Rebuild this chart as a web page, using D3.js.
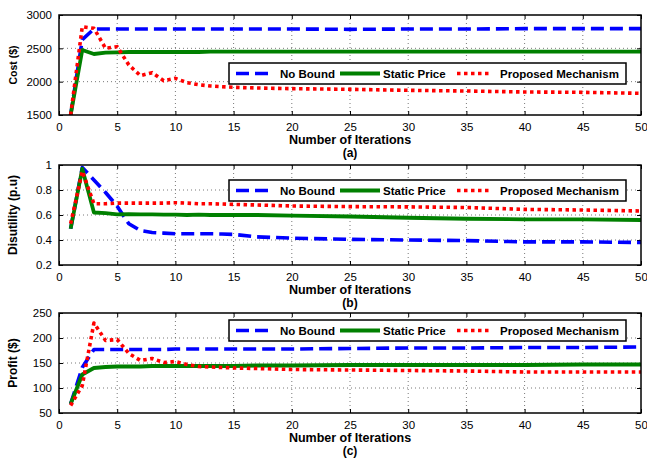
<!DOCTYPE html>
<html><head><meta charset="utf-8">
<script src="https://cdn.jsdelivr.net/npm/d3@7"></script>
<style>
body{margin:0;background:#fff;}
svg{display:block;font-family:"Liberation Sans",Arial,Helvetica,sans-serif;}
</style></head>
<body><svg id="c" width="647" height="458"></svg>
<script>
const iterations = [1,2,3,4,5,6,7,8,9,10,11,12,13,14,15,17,20,25,30,35,40,45,50];
const seriesNames = ["No Bound","Static Price","Proposed Mechanism"];

const costNoBound  = [1500,2630,2790,2790,2790,2790,2790,2790,2790,2790,2790,2790,2790,2790,2790,2790,2790,2785,2790,2790,2795,2795,2795];
const costStatic   = [1500,2475,2415,2435,2440,2445,2445,2445,2445,2445,2445,2445,2450,2450,2450,2450,2450,2450,2450,2450,2450,2450,2450];
const costProposed = [1500,2825,2800,2500,2525,2250,2090,2135,2015,2050,1985,1955,1935,1925,1915,1905,1895,1885,1870,1860,1845,1840,1825];

const disNoBound  = [0.49,0.98,0.88,0.78,0.67,0.53,0.475,0.46,0.455,0.45,0.45,0.45,0.45,0.448,0.445,0.425,0.415,0.405,0.40,0.395,0.385,0.385,0.38];
const disStatic   = [0.49,0.97,0.62,0.615,0.605,0.607,0.605,0.605,0.603,0.603,0.600,0.603,0.600,0.600,0.600,0.600,0.595,0.588,0.578,0.570,0.565,0.565,0.56];
const disProposed = [0.53,0.95,0.69,0.69,0.695,0.695,0.695,0.695,0.695,0.698,0.695,0.69,0.69,0.688,0.685,0.68,0.672,0.667,0.665,0.66,0.645,0.64,0.632];

const profNoBound  = [68,141,177,177,177,177,177,177,177,178,178,178,178,178,178,178,178,179,180,180,181,181,182];
const profStatic   = [68,127,140,142,143,143,143,144,144,144,144,144,144,144,144,145,145,146,146,146,146,147,147];
const profProposed = [65,105,230,195,197,169,155,159,151,153,147,143,142,141,140,139,137,136,135,134,132,132,132];

const xTicks = [0,5,10,15,20,25,30,35,40,45,50];
const costTicks = [1500,2000,2500,3000];
const disTicks = [0.2,0.4,0.6,0.8,1];
const profTicks = [50,100,150,200,250];

const panels = [
  {top:15, ylabel:"Cost ($)", ylabelSize:10.5, domain:[1500,3000], ticks:costTicks, fmt:d=>d, tag:"(a)", series:[costNoBound,costStatic,costProposed]},
  {top:165, ylabel:"Disutility (p.u)", ylabelSize:12, domain:[0.2,1], ticks:disTicks, fmt:d=>d, tag:"(b)", series:[disNoBound,disStatic,disProposed]},
  {top:313, ylabel:"Profit ($)", ylabelSize:12, domain:[50,250], ticks:profTicks, fmt:d=>d, tag:"(c)", series:[profNoBound,profStatic,profProposed]}
];

const styles = [
  {color:"#0000ff", dash:"13,6", width:3.6},
  {color:"#008000", dash:null, width:3.8},
  {color:"#ff0000", dash:"3.5,3.5", width:3.6}
];

const svg = d3.select("#c");
const L = 59, R = 641, H = 100;
const x = d3.scaleLinear().domain([0,50]).range([L,R]);

panels.forEach((p,pi)=>{
  const y = d3.scaleLinear().domain(p.domain).range([p.top+H,p.top]);
  const g = svg.append("g");
  const clipId = "clip"+pi;
  svg.append("clipPath").attr("id",clipId).append("rect")
    .attr("x",L).attr("y",p.top).attr("width",R-L).attr("height",H);

  // grid
  const grid = g.append("g").attr("stroke","#555").attr("stroke-width",0.8).attr("stroke-dasharray","1,3");
  xTicks.slice(1,-1).forEach(t=>grid.append("line").attr("x1",x(t)).attr("x2",x(t)).attr("y1",p.top).attr("y2",p.top+H));
  p.ticks.slice(1,-1).forEach(t=>grid.append("line").attr("x1",L).attr("x2",R).attr("y1",y(t)).attr("y2",y(t)));

  // axes via d3
  const ax = g.append("g").attr("transform",`translate(0,${p.top+H})`)
    .call(d3.axisBottom(x).tickValues(xTicks).tickSizeInner(-4).tickSizeOuter(0).tickPadding(8));
  const ay = g.append("g").attr("transform",`translate(${L},0)`)
    .call(d3.axisLeft(y).tickValues(p.ticks).tickFormat(p.fmt).tickSizeInner(-4).tickSizeOuter(0).tickPadding(7));
  const axTop = g.append("g").attr("transform",`translate(0,${p.top})`)
    .call(d3.axisTop(x).tickValues(xTicks).tickSizeInner(-4).tickSizeOuter(0).tickFormat(""));
  const ayR = g.append("g").attr("transform",`translate(${R},0)`)
    .call(d3.axisRight(y).tickValues(p.ticks).tickSizeInner(-4).tickSizeOuter(0).tickFormat(""));
  [ax,ay,axTop,ayR].forEach(a=>{
    a.select(".domain").remove();
    a.selectAll("line").attr("stroke","#000").attr("stroke-width",1);
    a.selectAll("text").attr("font-size","11.5px").attr("fill","#000").attr("font-family","Liberation Sans, Arial, sans-serif");
  });

  // lines
  const line = d3.line().x((d,i)=>x(iterations[i])).y(d=>y(d));
  const lg = g.append("g").attr("clip-path",`url(#${clipId})`);
  [0,1,2].forEach(si=>{
    lg.append("path").datum(p.series[si]).attr("d",line)
      .attr("fill","none").attr("stroke",styles[si].color).attr("stroke-width",styles[si].width)
      .attr("stroke-dasharray",styles[si].dash).attr("stroke-linejoin","round");
  });

  // box
  g.append("rect").attr("x",L).attr("y",p.top).attr("width",R-L).attr("height",H)
    .attr("fill","none").attr("stroke","#000").attr("stroke-width",1.5);

  // labels
  g.append("text").attr("x",350).attr("y",p.top+H+29).attr("text-anchor","middle")
    .attr("font-weight","bold").attr("font-size","12.5px").text("Number of Iterations");
  g.append("text").attr("x",350).attr("y",p.top+H+42).attr("text-anchor","middle")
    .attr("font-weight","bold").attr("font-size","12px").text(p.tag);
  g.append("text").attr("transform",`translate(17,${p.top+H/2}) rotate(-90)`).attr("text-anchor","middle")
    .attr("font-weight","bold").attr("font-size",p.ylabelSize+"px").text(p.ylabel);

  // legend
  const ly = p.top + (pi===0?48:(pi===1?15:7));
  const leg = g.append("g");
  leg.append("rect").attr("x",229).attr("y",ly).attr("width",397).attr("height",21)
    .attr("fill","#fff").attr("stroke","#000").attr("stroke-width",1.5);
  const lx = [[236,273,280],[340,380,383],[457,492,500]];
  [0,1,2].forEach(si=>{
    leg.append("line").attr("x1",lx[si][0]).attr("x2",lx[si][1]).attr("y1",ly+10.5).attr("y2",ly+10.5)
      .attr("stroke",styles[si].color).attr("stroke-width",styles[si].width).attr("stroke-dasharray",styles[si].dash);
    leg.append("text").attr("x",lx[si][2]).attr("y",ly+14.5).attr("font-weight","bold").attr("font-size","11.5px")
      .text(seriesNames[si]);
  });
});
</script></body></html>
